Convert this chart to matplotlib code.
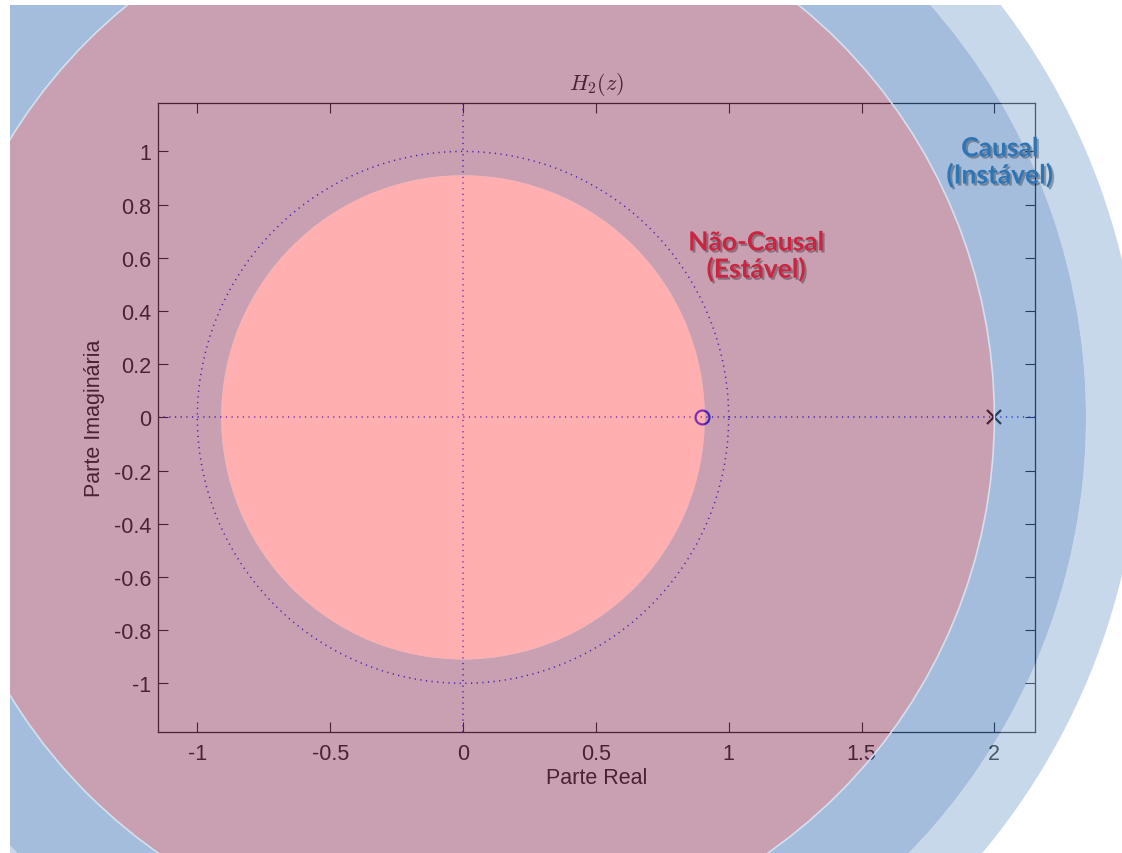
import numpy as np
import matplotlib
matplotlib.use("Agg")
import matplotlib.pyplot as plt
import matplotlib.patches as mpatches
import matplotlib.patheffects as pe

# pole-zero data for H2(z)
zeros_re = [0.9]
zeros_im = [0.0]
poles_re = [2.0]
poles_im = [0.0]

xticks = [-1, -0.5, 0, 0.5, 1, 1.5, 2]
yticks = [-1, -0.8, -0.6, -0.4, -0.2, 0, 0.2, 0.4, 0.6, 0.8, 1]

# region overlays (radii of the shaded rings, inner -> outer)
ring_radii = [0.91, 2.0, 2.345, 2.55]
ring_colors = ['#FF6161', '#934367', '#4D7DBB', '#93B3D9']

plt.rcParams['font.family'] = ['Liberation Sans', 'DejaVu Sans']
plt.rcParams['mathtext.fontset'] = 'cm'

fig = plt.figure(figsize=(11.22, 8.54), dpi=100)
fig.patch.set_facecolor('white')
ax = fig.add_axes([158/1122, 121/854, 877/1122, 629/854])
ax.set_facecolor('none')

# unit circle and axes lines (dotted, like zplane)
t = np.linspace(0, 2*np.pi, 400)
dot = (0, (0.8, 2.9))
ax.plot(np.cos(t), np.sin(t), color='#0000FF', lw=1.1, linestyle=dot)
ax.plot([-1.148, 2.153], [0, 0], color='#0000FF', lw=1.1, linestyle=dot)
ax.plot([0, 0], [-1.183, 1.182], color='#0000FF', lw=1.1, linestyle=dot)

ax.plot(zeros_re, zeros_im, 'o', mfc='none', mec='#0000FF', ms=10, mew=1.6)
ax.plot(poles_re, poles_im, 'x', color='black', ms=10, mew=1.6)

ax.set_xlim(-1.148, 2.153)
ax.set_ylim(-1.183, 1.182)
ax.set_xticks(xticks)
ax.set_xticklabels(['%g' % v for v in xticks])
ax.set_yticks(yticks)
ax.set_yticklabels(['%g' % v for v in yticks])
ax.tick_params(direction='in', length=7, width=0.8, top=True, right=True,
               labelsize=15.5, colors='black')
ax.tick_params(axis='x', pad=8)
ax.tick_params(axis='y', pad=5)
for s in ax.spines.values():
    s.set_linewidth(0.9)
    s.set_color('black')

ax.set_xlabel('Parte Real', fontsize=15.5, labelpad=2)
ax.set_ylabel('Parte Imaginária', fontsize=15.5, labelpad=6)
ax.set_title('$H_2(z)$', fontsize=16, pad=10)

# translucent region overlays on top of the plot
clip_rect = mpatches.Rectangle((10/1122, 0), 1112/1122, 848/854, transform=fig.transFigure)
inner = 0.0
for r, c in zip(ring_radii, ring_colors):
    if inner == 0:
        p = mpatches.Circle((0, 0), r, facecolor=c, edgecolor='none', alpha=0.5, zorder=10)
    else:
        p = mpatches.Wedge((0, 0), r, 0, 360, width=r - inner, facecolor=c,
                           edgecolor='none', alpha=0.5, zorder=10)
    ax.add_patch(p)
    p.set_clip_path(clip_rect)
    inner = r

edge = mpatches.Circle((0, 0), ring_radii[1], facecolor='none', edgecolor='#D3E0EF',
                       lw=1.2, zorder=11)
ax.add_patch(edge)
edge.set_clip_path(clip_rect)

shadow = [pe.withSimplePatchShadow(offset=(1.5, -1.5), shadow_rgbFace='black', alpha=0.3)]
ax.text(1.103, 0.606, 'Não-Causal\n(Estável)', color='#CC2440', fontsize=19,
        fontweight='bold', family=['Lato', 'DejaVu Sans'], ha='center', va='center',
        linespacing=1.1, zorder=20, clip_on=False, path_effects=shadow)
ax.text(2.02, 0.96, 'Causal\n(Instável)', color='#2E75B6', fontsize=19,
        fontweight='bold', family=['Lato', 'DejaVu Sans'], ha='center', va='center',
        linespacing=1.1, zorder=20, clip_on=False, path_effects=shadow)

fig.savefig('out.png', dpi=100)
